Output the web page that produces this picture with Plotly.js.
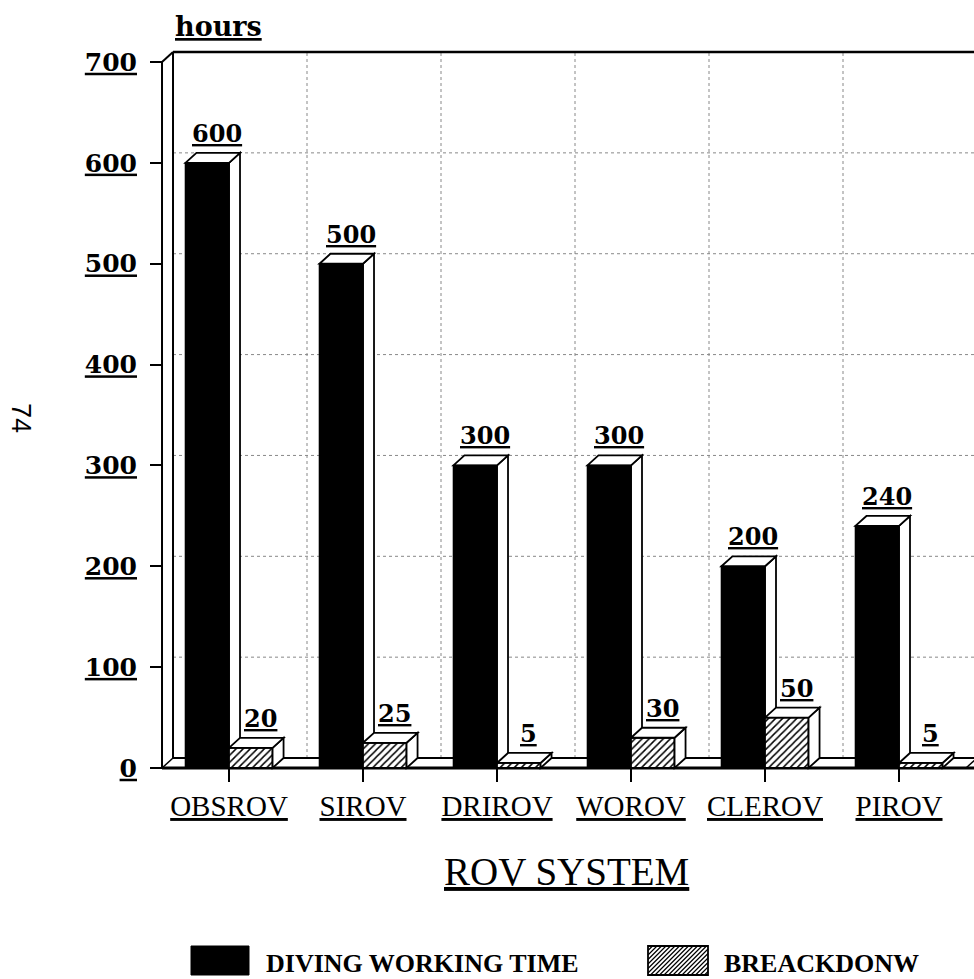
<!DOCTYPE html>
<html>
<head>
<meta charset="utf-8">
<script src="https://cdn.plot.ly/plotly-3.0.1.min.js"></script>
<style>
  html, body { margin: 0; padding: 0; background: #ffffff; }
  #chart { width: 974px; height: 979px; }
</style>
</head>
<body>
<div id="chart"></div>
<script>
// ---- data ----
const categories = ['OBSROV', 'SIROV', 'DRIROV', 'WOROV', 'CLEROV', 'PIROV'];
const divingHours = [600, 500, 300, 300, 200, 240];
const breakdownHours = [20, 25, 5, 30, 50, 5];
const yTickVals = [0, 100, 200, 300, 400, 500, 600, 700];
const seriesNames = ['DIVING WORKING TIME', 'BREACKDONW'];
const yUnitLabel = 'hours';
const xTitle = 'ROV SYSTEM';
const pageNumber = '74';

// ---- presentation constants ----
const L = 150, T = 50, PW = 824, PH = 732;       // plot area in pixels
const X_RANGE = [-0.5896, 5.5597];
const Y_RANGE = [-13.88, 711.9];
const W = 0.325;        // bar width (category units)
const DX = 0.0821;      // 3D depth offset in x (category units, ~11px)
const DY = 9.9;         // 3D depth offset in y (data units, ~10px)
const X_LEFT = -0.5, X_RIGHT = 5.5;
const Y_TOP = yTickVals[yTickVals.length - 1];

const pxX = p => (p - L) / PW;
const pxY = p => (T + PH - p) / PH;

const xIdx = categories.map((_, i) => i);
const u = s => '<u>' + s + '</u>';

// ---- traces ----
const traces = [
  {
    type: 'bar', name: seriesNames[0], x: xIdx, y: divingHours,
    offset: -W, width: W,
    marker: { color: '#000000', line: { color: '#000000', width: 1.5 } },
    hoverinfo: 'skip', showlegend: false
  },
  {
    type: 'bar', name: seriesNames[1], x: xIdx, y: breakdownHours,
    offset: 0, width: W,
    marker: {
      color: '#ffffff',
      line: { color: '#000000', width: 1.8 },
      pattern: { shape: '/', fgcolor: '#000000', bgcolor: '#ffffff', size: 5, solidity: 0.3 }
    },
    hoverinfo: 'skip', showlegend: false
  }
];

// ---- shapes: back wall, floor, grid, 3D faces ----
const shapes = [];
const gridStyle = { color: '#888888', width: 1, dash: 'dot' };
const edge = { color: '#000000', width: 2 };

// horizontal grid on back wall
yTickVals.slice(1, -1).forEach(v => {
  shapes.push({ type: 'line', xref: 'x', yref: 'y', layer: 'below',
    x0: X_LEFT + DX, x1: X_RANGE[1] + 1, y0: v + DY, y1: v + DY, line: gridStyle });
});
// vertical grid on back wall (category boundaries)
for (let k = 0; k < categories.length; k++) {
  const xb = k + 0.5 + DX;
  shapes.push({ type: 'line', xref: 'x', yref: 'y', layer: 'below',
    x0: xb, x1: xb, y0: DY, y1: Y_TOP + DY, line: gridStyle });
}
// back wall frame
shapes.push({ type: 'line', xref: 'x', yref: 'y', layer: 'below',
  x0: X_LEFT + DX, x1: X_RANGE[1] + 1, y0: Y_TOP + DY, y1: Y_TOP + DY, line: { color: '#000', width: 2.5 } });
shapes.push({ type: 'line', xref: 'x', yref: 'y', layer: 'below',
  x0: X_LEFT + DX, x1: X_LEFT + DX, y0: DY, y1: Y_TOP + DY, line: edge });
shapes.push({ type: 'line', xref: 'x', yref: 'y', layer: 'below',
  x0: X_LEFT, x1: X_LEFT + DX, y0: Y_TOP, y1: Y_TOP + DY, line: edge });
// front y axis
shapes.push({ type: 'line', xref: 'x', yref: 'y', layer: 'below',
  x0: X_LEFT, x1: X_LEFT, y0: 0, y1: Y_TOP, line: edge });
// floor
shapes.push({ type: 'line', xref: 'x', yref: 'y', layer: 'below',
  x0: X_LEFT + DX, x1: X_RANGE[1] + 1, y0: DY, y1: DY, line: edge });
shapes.push({ type: 'line', xref: 'x', yref: 'y', layer: 'below',
  x0: X_LEFT, x1: X_LEFT + DX, y0: 0, y1: DY, line: { color: '#000', width: 1.5 } });
shapes.push({ type: 'line', xref: 'x', yref: 'y', layer: 'below',
  x0: X_RIGHT, x1: X_RIGHT + DX, y0: 0, y1: DY, line: { color: '#000', width: 1.5 } });
shapes.push({ type: 'line', xref: 'x', yref: 'y', layer: 'below',
  x0: X_LEFT, x1: X_RANGE[1] + 1, y0: 0, y1: 0, line: { color: '#000', width: 3 } });

function faces(x0, x1, v, layer) {
  const top = `M${x0},${v} L${x0 + DX},${v + DY} L${x1 + DX},${v + DY} L${x1},${v} Z`;
  const side = `M${x1},${v} L${x1 + DX},${v + DY} L${x1 + DX},${DY} L${x1},0 Z`;
  [side, top].forEach(p => shapes.push({ type: 'path', xref: 'x', yref: 'y', layer: layer,
    path: p, fillcolor: '#ffffff', line: { color: '#000000', width: 1.8 } }));
}
divingHours.forEach((v, i) => faces(i - W, i, v, 'below'));
breakdownHours.forEach((v, i) => faces(i, i + W, v, 'above'));

// ---- custom legend ----
const leg1 = { x0: 191, x1: 249, y0: 946, y1: 975 };
const leg2 = { x0: 648, x1: 708, y0: 946, y1: 975 };
shapes.push({ type: 'rect', xref: 'paper', yref: 'paper',
  x0: pxX(leg1.x0), x1: pxX(leg1.x1), y0: pxY(leg1.y1), y1: pxY(leg1.y0),
  fillcolor: '#000', line: { color: '#000', width: 1 } });
(function () {
  let d = '';
  for (let k = leg2.x0 + leg2.y0; k <= leg2.x1 + leg2.y1; k += 4.5) {
    const xa = Math.max(leg2.x0, k - leg2.y1), xb = Math.min(leg2.x1, k - leg2.y0);
    if (xb - xa > 0.5) d += `M${pxX(xa)},${pxY(k - xa)} L${pxX(xb)},${pxY(k - xb)} `;
  }
  shapes.push({ type: 'path', xref: 'paper', yref: 'paper', path: d, line: { color: '#000', width: 1.2 } });
})();
shapes.push({ type: 'rect', xref: 'paper', yref: 'paper',
  x0: pxX(leg2.x0), x1: pxX(leg2.x1), y0: pxY(leg2.y1), y1: pxY(leg2.y0),
  line: { color: '#000', width: 1.8 } });

// ---- annotations ----
const numFont = { family: 'DejaVu Serif', size: 24, color: '#000', weight: 'bold' };
const annotations = [];
divingHours.forEach((v, i) => annotations.push({
  xref: 'x', yref: 'y', x: i - W / 2 + DX * 0.85, y: v + DY, yanchor: 'bottom', xanchor: 'center',
  yshift: 3, text: u(String(v)), showarrow: false, font: numFont }));
breakdownHours.forEach((v, i) => annotations.push({
  xref: 'x', yref: 'y', x: i + W / 2 + DX * 0.85, y: v + DY, yanchor: 'bottom', xanchor: 'center',
  yshift: 3, text: u(String(v)), showarrow: false, font: numFont }));

annotations.push({ xref: 'paper', yref: 'paper', x: pxX(173), y: pxY(44), xanchor: 'left', yanchor: 'bottom',
  text: u(yUnitLabel), showarrow: false, font: { family: 'DejaVu Serif', size: 27, color: '#000', weight: 'bold' } });
annotations.push({ xref: 'paper', yref: 'paper', x: pxX(566), y: pxY(848), xanchor: 'center', yanchor: 'top',
  text: u(xTitle), showarrow: false, font: { family: 'Liberation Serif', size: 39, color: '#000' } });
const legFont = { family: 'Liberation Serif', size: 26, color: '#000', weight: 'bold' };
annotations.push({ xref: 'paper', yref: 'paper', x: pxX(265), y: pxY(979), xanchor: 'left', yanchor: 'bottom',
  borderpad: 0, text: seriesNames[0], showarrow: false, font: legFont });
annotations.push({ xref: 'paper', yref: 'paper', x: pxX(723), y: pxY(979), xanchor: 'left', yanchor: 'bottom',
  borderpad: 0, text: seriesNames[1], showarrow: false, font: legFont });
annotations.push({ xref: 'paper', yref: 'paper', x: pxX(21), y: pxY(418), xanchor: 'center', yanchor: 'middle',
  textangle: 90, text: pageNumber, showarrow: false, font: { family: 'Liberation Sans', size: 27, color: '#000' } });

const layout = {
  width: 974, height: 979,
  margin: { l: L, r: 974 - L - PW, t: T, b: 979 - T - PH, pad: 0 },
  paper_bgcolor: '#ffffff', plot_bgcolor: 'rgba(0,0,0,0)',
  barmode: 'overlay',
  showlegend: false,
  xaxis: {
    type: 'linear', range: X_RANGE, tickmode: 'array', tickvals: xIdx, ticktext: categories.map(u),
    ticks: 'inside', ticklen: 14, tickwidth: 2, tickcolor: '#000',
    showgrid: false, zeroline: false, showline: false,
    tickfont: { family: 'Liberation Serif', size: 29, color: '#000' }, ticklabelstandoff: 4
  },
  yaxis: {
    range: Y_RANGE, tickmode: 'array', tickvals: yTickVals, ticktext: yTickVals.map(v => u(String(v))),
    ticks: 'inside', ticklen: 12, tickwidth: 2, tickcolor: '#000',
    showgrid: false, zeroline: false, showline: false,
    tickfont: { family: 'DejaVu Serif', size: 25, color: '#000', weight: 'bold' }, ticklabelstandoff: 12
  },
  shapes: shapes,
  annotations: annotations
};

Plotly.newPlot('chart', traces, layout, { displayModeBar: false, staticPlot: true });
</script>
</body>
</html>
